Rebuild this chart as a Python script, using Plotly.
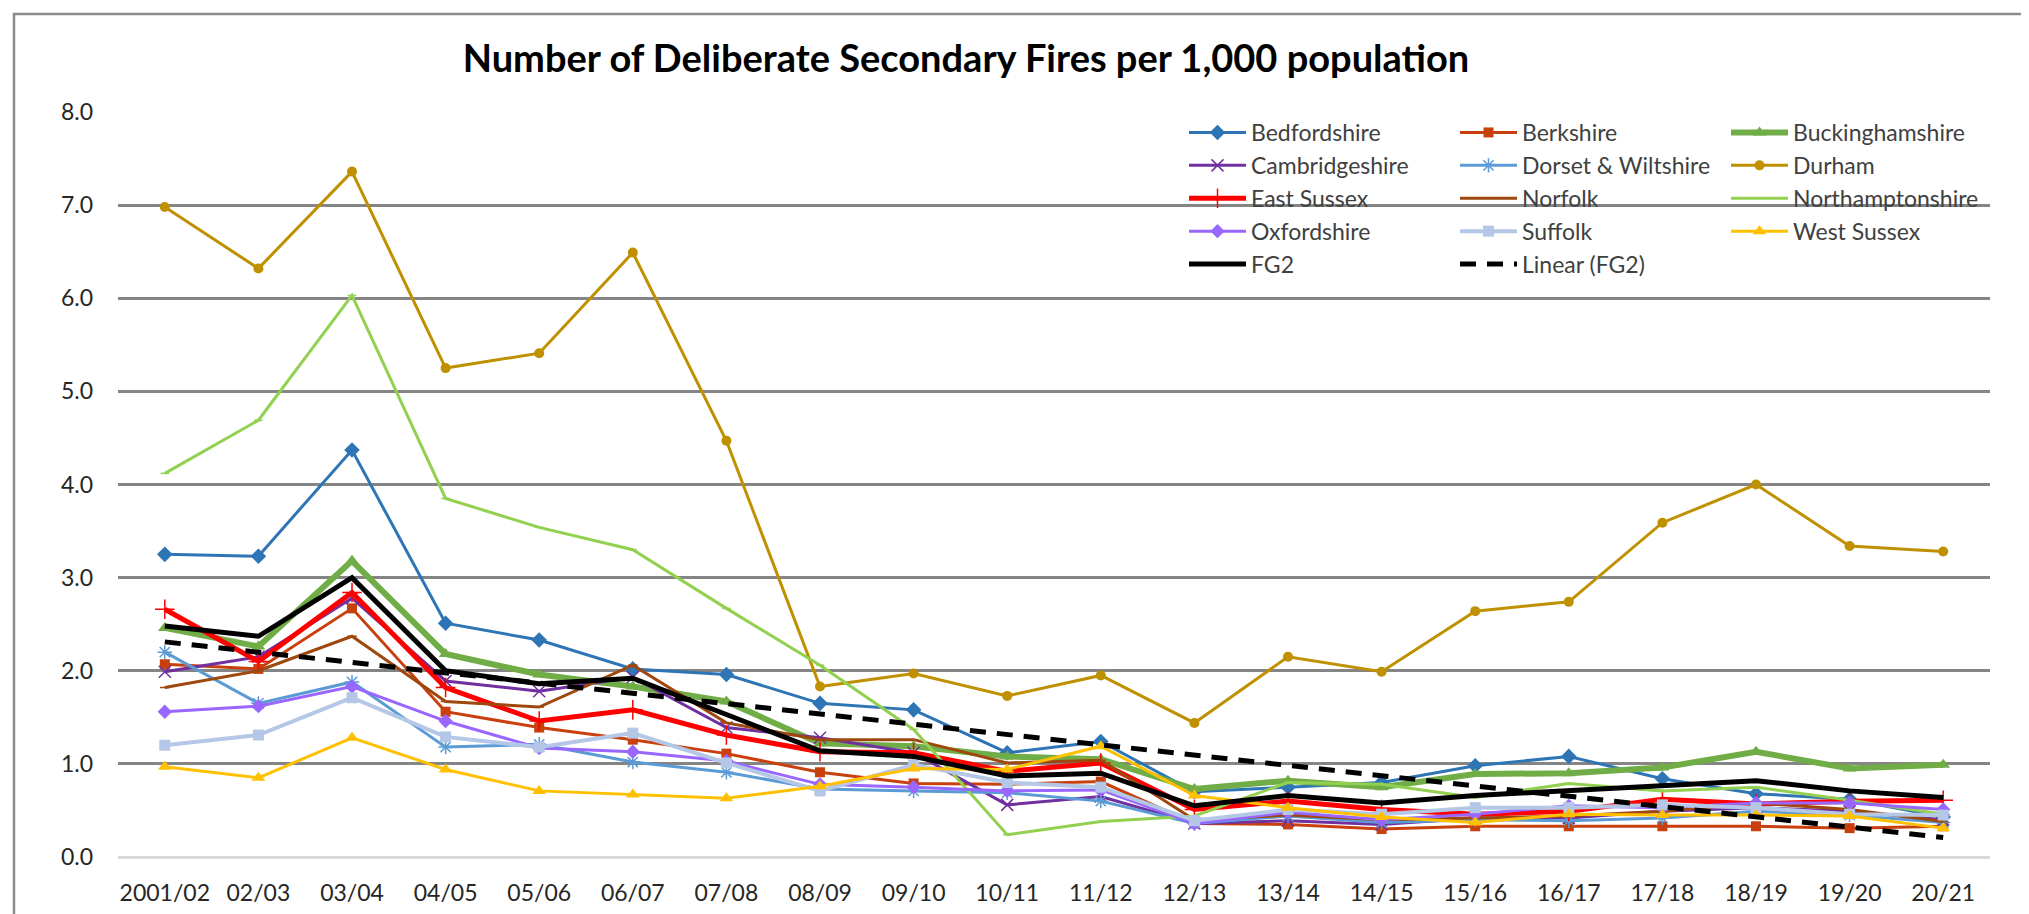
import plotly.graph_objects as go

categories = ["2001/02", "02/03", "03/04", "04/05", "05/06", "06/07", "07/08", "08/09", "09/10", "10/11",
              "11/12", "12/13", "13/14", "14/15", "15/16", "16/17", "17/18", "18/19", "19/20", "20/21"]

bedfordshire = [3.25, 3.23, 4.37, 2.51, 2.33, 2.02, 1.96, 1.65, 1.58, 1.12, 1.24, 0.70, 0.75, 0.80, 0.98, 1.08, 0.84, 0.68, 0.62, 0.43]
berkshire = [2.07, 2.02, 2.67, 1.56, 1.39, 1.26, 1.11, 0.91, 0.79, 0.78, 0.81, 0.36, 0.35, 0.30, 0.33, 0.33, 0.33, 0.33, 0.31, 0.33]
buckinghamshire = [2.46, 2.26, 3.18, 2.18, 1.96, 1.83, 1.67, 1.22, 1.19, 1.08, 1.05, 0.73, 0.82, 0.75, 0.89, 0.90, 0.96, 1.13, 0.95, 0.99]
cambridgeshire = [1.99, 2.15, 2.78, 1.89, 1.78, 1.93, 1.39, 1.28, 1.12, 0.56, 0.65, 0.36, 0.39, 0.35, 0.42, 0.42, 0.49, 0.53, 0.49, 0.40]
dorset_wiltshire = [2.20, 1.65, 1.88, 1.18, 1.21, 1.02, 0.91, 0.73, 0.71, 0.69, 0.60, 0.36, 0.44, 0.37, 0.40, 0.39, 0.42, 0.49, 0.45, 0.37]
durham = [6.98, 6.32, 7.36, 5.25, 5.41, 6.49, 4.47, 1.83, 1.97, 1.73, 1.95, 1.44, 2.15, 1.99, 2.64, 2.74, 3.59, 4.00, 3.34, 3.28]
east_sussex = [2.66, 2.10, 2.84, 1.82, 1.46, 1.58, 1.31, 1.13, 1.12, 0.92, 1.01, 0.51, 0.60, 0.51, 0.46, 0.49, 0.62, 0.57, 0.60, 0.61]
norfolk = [1.82, 2.00, 2.37, 1.67, 1.61, 2.06, 1.44, 1.26, 1.26, 1.01, 1.04, 0.40, 0.45, 0.40, 0.42, 0.44, 0.49, 0.58, 0.51, 0.38]
northamptonshire = [4.12, 4.69, 6.03, 3.85, 3.54, 3.30, 2.67, 2.06, 1.37, 0.24, 0.38, 0.44, 0.80, 0.78, 0.64, 0.79, 0.71, 0.75, 0.61, 0.46]
oxfordshire = [1.56, 1.62, 1.83, 1.46, 1.17, 1.13, 1.03, 0.78, 0.75, 0.71, 0.72, 0.36, 0.48, 0.40, 0.46, 0.55, 0.53, 0.58, 0.58, 0.51]
suffolk = [1.20, 1.31, 1.71, 1.29, 1.18, 1.33, 1.01, 0.71, 0.99, 0.80, 0.75, 0.39, 0.51, 0.46, 0.53, 0.53, 0.56, 0.53, 0.46, 0.45]
west_sussex = [0.97, 0.85, 1.28, 0.94, 0.71, 0.67, 0.63, 0.76, 0.95, 0.94, 1.19, 0.66, 0.53, 0.43, 0.37, 0.46, 0.45, 0.45, 0.44, 0.31]
fg2 = [2.48, 2.37, 3.00, 2.00, 1.86, 1.92, 1.53, 1.14, 1.08, 0.87, 0.90, 0.55, 0.66, 0.58, 0.66, 0.71, 0.76, 0.82, 0.71, 0.64]
# Linear trend of FG2, read at first and last category
linear_fg2_x = [categories[0], categories[-1]]
linear_fg2 = [2.31, 0.21]

FONT = "Lato, Carlito, Calibri, sans-serif"

# (name, values, color, line width, symbol, marker size, legend)
series = [
    ("Bedfordshire", bedfordshire, "#2E75B6", 3, "diamond", 12, "legend"),
    ("Berkshire", berkshire, "#C9400F", 3, "square", 10, "legend2"),
    ("Buckinghamshire", buckinghamshire, "#70AD47", 6, "triangle-up", 12, "legend3"),
    ("Cambridgeshire", cambridgeshire, "#7030A0", 3, "x-thin-open", 12, "legend"),
    ("Dorset & Wiltshire", dorset_wiltshire, "#5B9BD5", 3, "asterisk-open", 12, "legend2"),
    ("Durham", durham, "#BF9000", 3, "circle", 10, "legend3"),
    ("East Sussex", east_sussex, "#FF0000", 5, "cross-thin-open", 14, "legend"),
    ("Norfolk", norfolk, "#9E480E", 3, "line-ew-open", 7, "legend2"),
    ("Northamptonshire", northamptonshire, "#92D050", 3, "line-ew-open", 6, "legend3"),
    ("Oxfordshire", oxfordshire, "#9966FF", 3, "diamond", 11, "legend"),
    ("Suffolk", suffolk, "#B4C7E7", 4, "square", 11, "legend2"),
    ("West Sussex", west_sussex, "#FFC000", 3, "triangle-up", 12, "legend3"),
]

fig = go.Figure()
for name, vals, color, lw, sym, ms, leg in series:
    open_sym = sym.endswith("-open")
    fig.add_trace(go.Scatter(
        x=categories, y=vals, name=name, mode="lines+markers",
        line=dict(color=color, width=lw),
        marker=dict(symbol=sym, size=ms, color=color,
                    line=dict(color=color, width=1.5 if open_sym else 0)),
        legend=leg,
    ))

fig.add_trace(go.Scatter(
    x=categories, y=fg2, name="FG2", mode="lines",
    line=dict(color="#000000", width=5), legend="legend",
))
fig.add_trace(go.Scatter(
    x=linear_fg2_x, y=linear_fg2, name="Linear (FG2)", mode="lines",
    line=dict(color="#000000", width=5, dash="16px,11px"), legend="legend2",
))

L, R, T, B = 110, 47, 104, 65
W, H = 2029, 914
pw, ph = W - L - R, H - T - B

legend_common = dict(
    font=dict(family=FONT, size=23, color="#404040"),
    bgcolor="rgba(0,0,0,0)", borderwidth=0, orientation="v",
    itemwidth=57, tracegroupgap=0, itemclick=False,
    xanchor="left", yanchor="top", traceorder="normal",
)
leg_top = (H - B - 103) / ph

fig.update_layout(
    width=W, height=H,
    margin=dict(l=L, r=R, t=T, b=B, autoexpand=False),
    paper_bgcolor="white", plot_bgcolor="white",
    font=dict(family=FONT, size=24, color="#262626"),
    title=dict(
        text="<b>Number of Deliberate Secondary Fires per 1,000 population</b>",
        x=958 / W, xanchor="center", y=1 - 51 / H, yanchor="middle",
        xref="container", yref="container",
        font=dict(family=FONT, size=38, color="#000000"),
    ),
    xaxis=dict(
        type="category", categoryorder="array", categoryarray=categories,
        range=[-0.5, len(categories) - 0.5],
        showgrid=False, showline=False, zeroline=False, ticks="",
        tickfont=dict(family=FONT, size=23, color="#262626"),
        ticklabelstandoff=20,
    ),
    yaxis=dict(
        range=[0, 8], dtick=1, tickformat=".1f",
        showgrid=True, gridcolor="#858585", gridwidth=2.5,
        zeroline=True, zerolinecolor="#D9D9D9", zerolinewidth=2.5,
        showline=False, ticks="",
        tickfont=dict(family=FONT, size=23, color="#262626"),
        ticklabelstandoff=24,
    ),
    legend=dict(x=(1176 - L) / pw, y=leg_top, **legend_common),
    legend2=dict(x=(1447 - L) / pw, y=leg_top, **legend_common),
    legend3=dict(x=(1718 - L) / pw, y=leg_top, **legend_common),
    showlegend=True,
)

# outer chart border
fig.add_shape(
    type="rect", xref="paper", yref="paper",
    x0=(6 - L) / pw, x1=(2021 - L) / pw,
    y0=(H - B - 930) / ph, y1=(H - B - 6) / ph,
    line=dict(color="#8C8C8C", width=2.5), fillcolor="rgba(0,0,0,0)", layer="below",
)

fig.write_html("out.html")
